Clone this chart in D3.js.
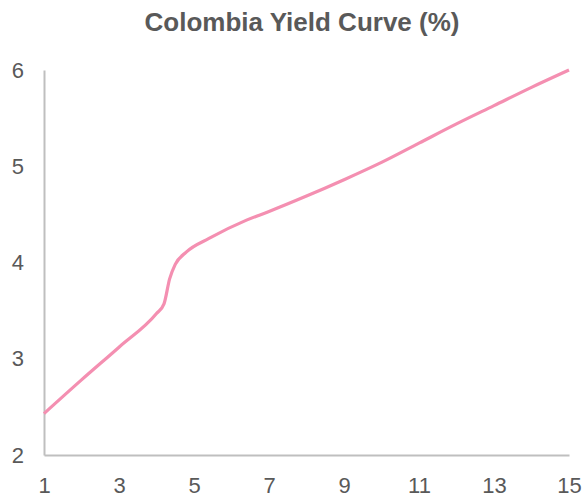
<!DOCTYPE html>
<html><head><meta charset="utf-8">
<script src="https://cdn.jsdelivr.net/npm/d3@7"></script>
<style>body{margin:0;background:#fff;} svg{display:block;}</style>
</head><body><svg id="c" width="584" height="497"></svg>
<script>
const maturities = [1,2,3,4,4.2,4.35,4.5,4.8,5.4,6.4,7,8,9,10,11,12,13,14,15];
const yields =     [2.43,2.78,3.12,3.47,3.57,3.83,3.98,4.11,4.25,4.44,4.53,4.69,4.86,5.04,5.24,5.44,5.63,5.82,6.0];
const xTicks = [1,3,5,7,9,11,13,15];
const yTicks = [2,3,4,5,6];
const title = "Colombia Yield Curve (%)";

const svg = d3.select("#c");
const x = d3.scaleLinear().domain([1,15]).range([44,569]);
const y = d3.scaleLinear().domain([2,6]).range([455,70]);
const txt = "#595959", font = "Liberation Sans, Arial, sans-serif";

svg.append("text").attr("x",302).attr("y",31).attr("text-anchor","middle")
  .attr("font-family",font).attr("font-size",26).attr("font-weight","bold").attr("fill",txt).text(title);

const ya = svg.append("g").attr("transform","translate(44,0)")
  .call(d3.axisLeft(y).tickValues(yTicks).tickSize(0).tickPadding(20).tickFormat(d3.format("d")));
ya.select(".domain").attr("stroke","#bfbfbf").attr("stroke-width",2);
ya.selectAll("text").attr("font-family",font).attr("font-size",22).attr("fill",txt);

const xa = svg.append("g").attr("transform","translate(0,455)")
  .call(d3.axisBottom(x).tickValues(xTicks).tickSize(0).tickPadding(22).tickFormat(d3.format("d")));
xa.select(".domain").attr("stroke","#bfbfbf").attr("stroke-width",2);
xa.selectAll("text").attr("font-family",font).attr("font-size",22).attr("fill",txt);

const data = maturities.map((m,i)=>({m, v: yields[i]}));
svg.append("path").datum(data)
  .attr("fill","none").attr("stroke","#f48fb1").attr("stroke-width",3.2).attr("stroke-linecap","butt")
  .attr("d", d3.line().x(d=>x(d.m)).y(d=>y(d.v)).curve(d3.curveMonotoneX));
</script></body></html>
